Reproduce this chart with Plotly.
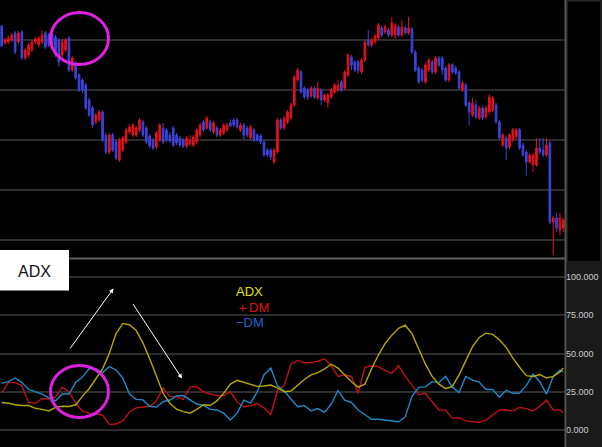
import plotly.graph_objects as go

# ---------------- data ----------------
# candles (price units; up = red, down = blue)
opens = [234,217,218,220,227,218,228,202,205,210, 218,
         215,218,227,225,227,223,220,205,210,222,
         190,197,185,180,175,160,152,138,140,148,
         125,108,125,118,100,110,118, 128,
         125,125,130,138,132,124,120,113,120,132,130, 125,
         132,125,122,120,114, 116,
         115,118,125,138,132,138,128,132,125,127,130, 137,
         140,140,130,135,132,122,
         130,125,124,118,110,110,98,108,140,132,
         138,142,155,180,188,172,170,164,172,162,
         170,160,157,163,168,170,178,172,185,203,
         198,198,188,200,220,215,218,222,232,228,
         230,225,225,233,225,232,227,231,208,192,
         190,178,190,198,188,202,
         202,192,180,195,192,
         188,170,175,157,145,155,142,
         152,143,
         148,150,155,138,115,122,113,
         120,123,130,115,108,98,95,95,112,110,105,117,38,42,30,32]
highs = [235,222,224,227,229,229,230,212,217,220, 223,
         224,230,229,227,229,225,222,221,222,224,
         204,199,187,182,177,162,154,147,150,150,
         127,127,127,120,122,124,132, 136,
         137,134,142,140,134,126,122,129,137,137,132, 128,
         134,127,124,122,124, 125,
         125,132,137,140,144,140,139,134,132,137,137, 141,
         142,142,137,137,134,135,
         132,127,126,120,112,112,112,142,142,144,
         150,157,185,192,190,174,172,174,174,178,
         172,167,167,172,177,180,180,190,207,205,
         200,200,202,220,230,222,226,237,234,235,
         232,243,237,235,240,234,243,233,210,194,
         192,197,202,200,204,204,
         204,194,197,197,194,
         190,179,177,159,162,160,154,
         154,154,
         166,164,157,140,127,124,127,
         132,132,132,117,110,107,107,122,122,122,122,119,44,47,47,42]
lows = [213,215,216,218,206,216,200,200,203,208, 216,
        213,216,211,213,213,203,193,203,208,188,
        188,180,168,167,150,143,132,136,138,118,
        106,106,108,100,98,108,116, 126,
        123,123,128,123,116,112,110,111,118,116,118, 117,
        113,115,113,112,112, 114,
        113,116,123,128,130,128,126,123,123,125,128, 133,
        133,131,128,120,123,120,
        118,118,116,103,103,100,96,106,130,130,
        136,140,153,178,166,161,160,162,161,160,
        155,158,152,161,166,168,168,170,183,190,
        188,186,186,198,213,213,216,220,223,226,
        223,223,221,223,223,225,225,206,188,176,
        178,176,188,186,186,193,
        185,178,178,186,185,
        170,168,153,135,143,141,140,
        140,141,
        146,148,136,120,113,100,111,
        118,121,110,103,84,96,88,93,106,103,103,36,5,28,25,28]
closes = [214,220,222,225,208,227,202,210,215,218, 221,
          222,225,213,215,215,205,198,218,220,190,
          202,182,170,170,152,145,135,145,148,120,
          108,125,110,102,120,122,130, 133,
          135,132,140,125,118,114,112,127,135,118,120, 119,
          115,117,115,114,122, 120,
          123,130,135,130,142,130,137,125,130,135,135, 134,
          135,133,135,125,125,133,
          120,120,118,105,105,103,110,140,132,142,
          148,155,183,190,168,163,163,172,163,172,
          160,165,165,170,175,175,170,188,205,195,
          190,190,200,218,215,220,224,235,225,233,
          225,237,235,225,233,227,232,208,190,178,
          180,195,200,188,202,195,
          190,180,195,188,187,
          172,177,155,148,157,143,152,
          142,152,
          163,162,138,122,125,112,125,
          130,130,112,105,98,105,105,112,108,105,115,38,42,32,42,40]
assert len(opens) == len(highs) == len(lows) == len(closes) == 168
candle_idx = list(range(len(opens)))

# indicator samples (every second bar, plus the last one)
ind_idx = list(range(0, 168, 2)) + [167]
adx = [18,17.5,16.5,16,16,14.2,13.5,12.5,14.8,15.5,
       15.4,16.5,22,27,33.5,40,50,63,69.5,68.8,
       65,57,46.5,35,24,17.5,13.6,12,11,13.5,
       16.5,16,19,24,30,32.5,31,29.5,28.5,28.8,
       29.4,27.5,25,25.5,29.5,33,36,37.5,40,43,
       40.5,36.3,31.5,28,30,40,49,56.5,62,66.5,
       68.5,63,53.5,43,35,30,27,28.5,36,45.5,
       54.5,60.5,63.3,62.5,59,54,47,41,35.5,35,
       36.3,34,35,38,40.5]
plus_dm = [24.5,31,31,29,18,17.4,20.5,20.3,21.5,28,
           25,17.5,12.5,11,10.6,9.8,3.7,3.9,6,11.8,
           14.5,15,15.5,19,27.5,22,21.8,20,28,28.5,
           25,23.5,22.5,22.5,25,18.5,15.2,15.8,17.2,14.5,
           10,26,29,43,45.5,44,44,45,46.5,42,
           35,36,35,24,41,42,41.4,39,37,42,
           35,29.5,23,24,18.5,13.1,13,7.6,8.1,6,
           5.4,5,6.5,10,13.1,13.2,12.5,14.8,14,12.5,
           15.5,19.5,13.1,13.1,11.3]
minus_dm = [30.5,31.6,34,31,26.5,25,23.5,21,19,23.5,
            23.5,31,34.6,40,40,37.5,41.5,39.2,34,23.5,
            20,19.7,15.5,15,18.5,19.6,22.3,22.5,19.5,17,
            16.2,13.5,13.1,11,6.5,11,19.5,17.6,25,36,
            40.5,29,25.5,20,15.2,16,12.5,14,11.5,17,
            25.8,19.5,18,13.1,10,7,7,6.5,6,5.4,
            8.7,22,27.9,28.2,31.6,31,35,28,24.5,35,
            32.6,31.3,26.5,26.5,21.5,26,24,24.2,29,36.5,
            31.6,23.5,35,39.2,38]
ind_ticks = [0, 25, 50, 75, 100]
price_grid = [20, 70, 120, 170, 220]
legend_names = ["ADX", "＋DM", "−DM"]

# ---------------- style ----------------
W, H = 602, 447
RED = "#e3121b"
BLUE = "#3b44d9"
C_ADX, C_PDM, C_MDM = "#b3a800", "#c0101c", "#1f88c8"
T_ADX, T_PDM, T_MDM = "#e8e000", "#e01010", "#2462c8"
GRID = "#2c2c2c"
FONT = "Liberation Sans, Arial, sans-serif"
XR = 565 / W


def px(x):
    return x / W


def py(y):
    return 1 - y / H


fig = go.Figure()
fig.add_trace(go.Candlestick(
    x=candle_idx, open=opens, high=highs, low=lows, close=closes,
    xaxis="x", yaxis="y", showlegend=False, hoverinfo="skip",
    whiskerwidth=0,
    increasing=dict(line=dict(color=RED, width=1), fillcolor=RED),
    decreasing=dict(line=dict(color=BLUE, width=1), fillcolor=BLUE),
))
for vals, col in [(plus_dm, C_PDM), (minus_dm, C_MDM), (adx, C_ADX)]:
    fig.add_trace(go.Scatter(x=ind_idx, y=vals, mode="lines", xaxis="x2", yaxis="y2",
                             line=dict(color=col, width=1.4), showlegend=False,
                             hoverinfo="skip"))

shapes = [
    dict(type="rect", xref="paper", yref="paper", x0=px(567), x1=1, y0=0, y1=py(263),
         fillcolor="#1a1a1a", line=dict(width=0), layer="below"),
    dict(type="rect", xref="paper", yref="paper", x0=px(567), x1=px(601), y0=py(262), y1=py(0.7),
         fillcolor="rgba(0,0,0,0)", line=dict(color="#262626", width=1.5), layer="below"),
    dict(type="line", xref="paper", yref="paper", x0=XR + 0.5 / W, x1=XR + 0.5 / W, y0=0, y1=1,
         line=dict(color="#555555", width=2)),
    dict(type="line", xref="paper", yref="paper", x0=0, x1=XR, y0=py(258.5), y1=py(258.5),
         line=dict(color="#5e5e5e", width=2)),
    dict(type="rect", xref="paper", yref="paper", x0=0, x1=px(69), y0=py(290.5), y1=py(250),
         fillcolor="white", line=dict(width=0)),
    dict(type="circle", xref="paper", yref="paper", x0=px(50.5), x1=px(108.5),
         y0=py(64.5), y1=py(12.5), line=dict(color="#e020e0", width=3)),
    dict(type="circle", xref="paper", yref="paper", x0=px(50.5), x1=px(108.5),
         y0=py(417.5), y1=py(365.5), line=dict(color="#e020e0", width=3)),
]

annotations = [
    dict(text="ADX", xref="paper", yref="paper", x=px(34.5), y=py(271), showarrow=False,
         xanchor="center", yanchor="middle", font=dict(family=FONT, size=16, color="#111111")),
    dict(text="", xref="paper", yref="paper", x=px(113.5), y=py(288.5), ax=-44.5, ay=61.5,
         showarrow=True, arrowhead=2, arrowsize=0.9, arrowwidth=1, arrowcolor="white", standoff=0),
    dict(text="", xref="paper", yref="paper", x=px(182), y=py(378.5), ax=-50, ay=-76,
         showarrow=True, arrowhead=2, arrowsize=0.9, arrowwidth=1, arrowcolor="white", standoff=0),
]
for name, col, yy in zip(legend_names, [T_ADX, T_PDM, T_MDM], [291.5, 307.5, 322.5]):
    annotations.append(dict(text=name, xref="paper", yref="paper", x=px(233.5), y=py(yy),
                            showarrow=False, xanchor="left", yanchor="middle",
                            font=dict(family=FONT, size=13, color=col)))

fig.update_layout(
    width=W, height=H, autosize=False,
    margin=dict(l=0, r=0, t=0, b=0),
    paper_bgcolor="black", plot_bgcolor="black",
    font=dict(family=FONT),
    shapes=shapes, annotations=annotations,
    xaxis=dict(domain=[0, XR], range=[-0.5, 167.5], anchor="y", showgrid=False,
               showticklabels=False, zeroline=False, showline=False, ticks="",
               rangeslider=dict(visible=False)),
    xaxis2=dict(domain=[0, XR], range=[-0.5, 167.5], anchor="y2", matches="x",
                showgrid=False, showticklabels=False, zeroline=False, showline=False, ticks=""),
    yaxis=dict(domain=[py(258), 1], range=[2, 260], anchor="x", tickvals=price_grid,
               showticklabels=False, gridcolor=GRID, gridwidth=1.5, zeroline=False,
               showline=False, ticks=""),
    yaxis2=dict(domain=[0, py(260)], range=[-11.1, 111.1], anchor="x2", side="right",
                tickvals=ind_ticks, tickformat=".3f", gridcolor=GRID, gridwidth=1.5,
                zeroline=False, showline=False, ticks="", automargin=False,
                tickfont=dict(family=FONT, size=9, color="#cfcfcf")),
)

fig.write_html("out.html", config={"displayModeBar": False},
               post_script="document.body.style.margin='0';")
